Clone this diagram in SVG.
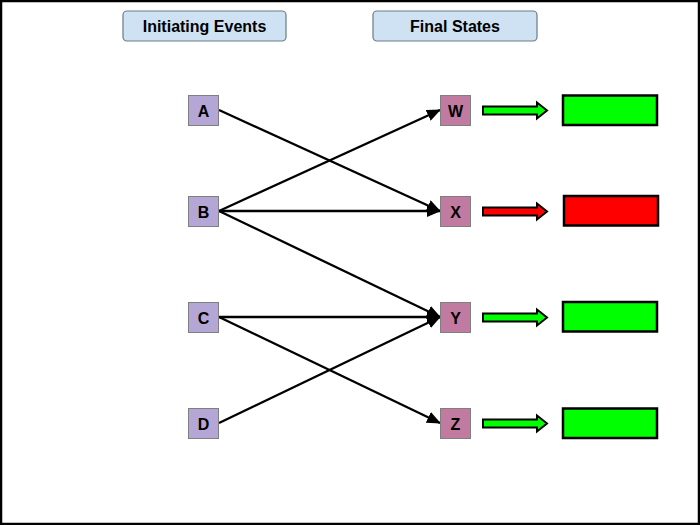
<svg xmlns="http://www.w3.org/2000/svg" width="700" height="525" viewBox="0 0 700 525">
<defs>
<style>
.hdr{fill:#cfe2f3;stroke:#6d7a85;stroke-width:1.2}
.hdrt{font-family:"Liberation Sans",Arial,sans-serif;font-weight:bold;font-size:16px;fill:#000;text-anchor:middle}
.src{fill:#b4a7d6;stroke:#7f7f7f;stroke-width:1}
.dst{fill:#c27ba0;stroke:#7f7f7f;stroke-width:1}
.lbl{font-family:"Liberation Sans",Arial,sans-serif;font-weight:bold;font-size:16px;fill:#000;text-anchor:middle}
.edge{stroke:#000;stroke-width:2.3;fill:none;marker-end:url(#ah)}
.blk{stroke:#000;stroke-width:2;stroke-linejoin:miter}
.res{stroke:#000;stroke-width:2.5}
.g{fill:#00ff00}
.r{fill:#ff0000}
</style>
<marker id="ah" markerWidth="14" markerHeight="12" refX="13" refY="6" orient="auto" markerUnits="userSpaceOnUse">
<path d="M0,0 L14,6 L0,12 Z" fill="#000"/>
</marker>
</defs>
<rect x="1" y="1" width="698" height="523" fill="#fff" stroke="#000" stroke-width="2.5"/>

<g id="hdr-initiating">
<rect class="hdr" x="123" y="11" width="163" height="30" rx="4"/>
<text class="hdrt" x="204.5" y="31.5">Initiating Events</text>
</g>
<g id="hdr-final">
<rect class="hdr" x="373" y="11" width="164" height="30" rx="4"/>
<text class="hdrt" x="455" y="31.5">Final States</text>
</g>

<g id="connectors">
<line class="edge" x1="219" y1="110" x2="440" y2="211"/>
<line class="edge" x1="219" y1="211" x2="440" y2="110"/>
<line class="edge" x1="219" y1="211" x2="440" y2="211"/>
<line class="edge" x1="219" y1="211" x2="440" y2="317"/>
<line class="edge" x1="219" y1="317" x2="440" y2="317"/>
<line class="edge" x1="219" y1="317" x2="440" y2="423"/>
<line class="edge" x1="219" y1="423" x2="440" y2="317"/>
</g>

<g id="node-A"><rect class="src" x="188.5" y="95.5" width="30" height="30"/><text class="lbl" x="203.5" y="116.5">A</text></g>
<g id="node-B"><rect class="src" x="188.5" y="196.5" width="30" height="30"/><text class="lbl" x="203.5" y="217.5">B</text></g>
<g id="node-C"><rect class="src" x="188.5" y="302.5" width="30" height="30"/><text class="lbl" x="203.5" y="323.5">C</text></g>
<g id="node-D"><rect class="src" x="188.5" y="408.5" width="30" height="30"/><text class="lbl" x="203.5" y="429.5">D</text></g>

<g id="node-W"><rect class="dst" x="440.5" y="95.5" width="30" height="30"/><text class="lbl" x="455.5" y="116.5">W</text></g>
<g id="node-X"><rect class="dst" x="440.5" y="196.5" width="30" height="30"/><text class="lbl" x="455.5" y="217.5">X</text></g>
<g id="node-Y"><rect class="dst" x="440.5" y="302.5" width="30" height="30"/><text class="lbl" x="455.5" y="323.5">Y</text></g>
<g id="node-Z"><rect class="dst" x="440.5" y="408.5" width="30" height="30"/><text class="lbl" x="455.5" y="429.5">Z</text></g>

<g id="outcome-W">
<path class="blk g" d="M483,106.5 H537 V102.5 L547,110.5 L537,118.5 V114.5 H483 Z"/>
<rect class="res g" x="563" y="95.5" width="94" height="29.5"/>
</g>
<g id="outcome-X">
<path class="blk r" d="M483,207.5 H537 V203.5 L547,211.5 L537,219.5 V215.5 H483 Z"/>
<rect class="res r" x="564" y="196" width="94" height="29.5"/>
</g>
<g id="outcome-Y">
<path class="blk g" d="M483,313.5 H537 V309.5 L547,317.5 L537,325.5 V321.5 H483 Z"/>
<rect class="res g" x="563" y="302" width="94" height="29.5"/>
</g>
<g id="outcome-Z">
<path class="blk g" d="M483,419.5 H537 V415.5 L547,423.5 L537,431.5 V427.5 H483 Z"/>
<rect class="res g" x="563" y="408.5" width="94" height="29.5"/>
</g>
</svg>
